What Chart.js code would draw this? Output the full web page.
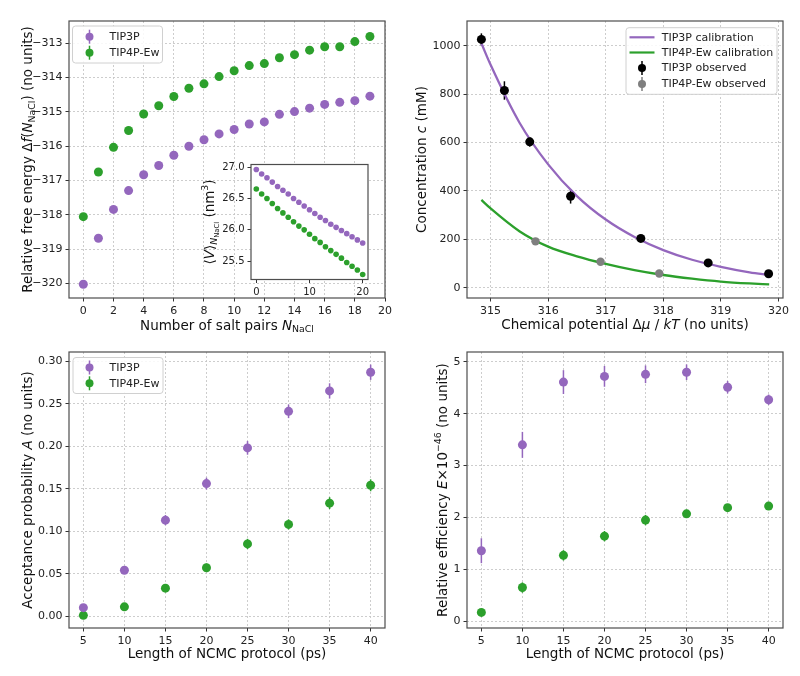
<!DOCTYPE html>
<html>
<head>
<meta charset="utf-8">
<script src="https://cdn.jsdelivr.net/npm/chart.js@4.4.0/dist/chart.umd.min.js"></script>
<style>
  html, body { margin: 0; padding: 0; background: #fff; }
  #wrap { position: relative; width: 800px; height: 676px; }
  #wrap canvas { position: absolute; left: 0; top: 0; }
</style>
</head>
<body>
<div id="wrap">
  <canvas id="cTL" width="800" height="676"></canvas>
  <canvas id="cTR" width="800" height="676"></canvas>
  <canvas id="cBL" width="800" height="676"></canvas>
  <canvas id="cBR" width="800" height="676"></canvas>
  <canvas id="cIn" width="800" height="676"></canvas>
</div>
<script>
// ---- data ----
// top left: relative free energy vs number of salt pairs
const nSalt = [0, 1, 2, 3, 4, 5, 6, 7, 8, 9, 10, 11, 12, 13, 14, 15, 16, 17, 18, 19];
const dfTip3p = [-320.02, -318.68, -317.84, -317.29, -316.83, -316.56, -316.26, -316.00, -315.81, -315.64,
                 -315.51, -315.35, -315.29, -315.07, -314.99, -314.89, -314.78, -314.72, -314.67, -314.54];
const dfErrTip3p = [0.03, 0.04, 0.04, 0.04, 0.04, 0.04, 0.04, 0.04, 0.04, 0.04,
                    0.04, 0.04, 0.04, 0.04, 0.04, 0.04, 0.04, 0.04, 0.04, 0.04];
const dfTip4p = [-318.05, -316.75, -316.03, -315.54, -315.06, -314.82, -314.55, -314.31, -314.18, -313.97,
                 -313.80, -313.65, -313.59, -313.42, -313.33, -313.20, -313.10, -313.10, -312.95, -312.80];
const dfErrTip4p = [0.03, 0.04, 0.04, 0.04, 0.04, 0.04, 0.04, 0.04, 0.04, 0.04,
                    0.04, 0.04, 0.04, 0.04, 0.04, 0.04, 0.04, 0.04, 0.04, 0.04];
const tlTicksX = [0, 2, 4, 6, 8, 10, 12, 14, 16, 18, 20];
const tlTicksY = [-320, -319, -318, -317, -316, -315, -314, -313];

// inset: mean volume
const nSaltInset = [0, 1, 2, 3, 4, 5, 6, 7, 8, 9, 10, 11, 12, 13, 14, 15, 16, 17, 18, 19, 20];
const volTip3p = [26.96, 26.89, 26.83, 26.76, 26.69, 26.63, 26.57, 26.50, 26.44, 26.38, 26.32,
                  26.26, 26.20, 26.15, 26.09, 26.04, 25.99, 25.94, 25.89, 25.84, 25.79];
const volTip4p = [26.65, 26.57, 26.50, 26.42, 26.34, 26.27, 26.20, 26.13, 26.06, 26.00, 25.93,
                  25.86, 25.80, 25.73, 25.67, 25.61, 25.55, 25.48, 25.42, 25.36, 25.29];
const inTicksX = [0, 10, 20];
const inTicksY = [25.5, 26.0, 26.5, 27.0];

// top right: concentration vs chemical potential
const muObsTip3p = [314.84, 315.24, 315.68, 316.39, 317.61, 318.78, 319.83];
const cObsTip3p = [1026, 815, 603, 378, 204, 103, 58];
const cErrTip3p = [25, 38, 20, 30, 14, 10, 10];
const muObsTip4p = [315.78, 316.91, 317.93];
const cObsTip4p = [192, 108, 59];
const cErrTip4p = [8, 8, 6];
const muCurve = [314.84, 315.0, 315.5, 316.0, 316.5, 317.0, 317.5, 318.0, 318.5, 319.0, 319.5, 319.84];
const cCurveTip3p = [1010, 921, 683, 510, 379, 282, 210, 156, 116, 87, 64, 53];
const cCurveTip4p = [363, 328, 234, 170, 130, 99, 73, 53, 38, 26, 18, 14];
const trTicksX = [315, 316, 317, 318, 319, 320];
const trTicksY = [0, 200, 400, 600, 800, 1000];

// bottom: NCMC protocol length
const protoLen = [5, 10, 15, 20, 25, 30, 35, 40];
const accTip3p = [0.010, 0.054, 0.113, 0.156, 0.198, 0.241, 0.265, 0.287];
const accErrTip3p = [0.003, 0.004, 0.006, 0.007, 0.008, 0.008, 0.009, 0.009];
const accTip4p = [0.001, 0.011, 0.033, 0.057, 0.085, 0.108, 0.133, 0.154];
const accErrTip4p = [0.002, 0.003, 0.004, 0.005, 0.006, 0.006, 0.007, 0.007];
const effTip3p = [1.36, 3.40, 4.61, 4.72, 4.76, 4.80, 4.51, 4.27];
const effErrTip3p = [0.24, 0.25, 0.23, 0.20, 0.17, 0.15, 0.12, 0.10];
const effTip4p = [0.17, 0.65, 1.27, 1.64, 1.95, 2.07, 2.19, 2.22];
const effErrTip4p = [0.05, 0.10, 0.10, 0.10, 0.10, 0.08, 0.07, 0.07];
const protoTicks = [5, 10, 15, 20, 25, 30, 35, 40];
const accTicks = [0.00, 0.05, 0.10, 0.15, 0.20, 0.25, 0.30];
const effTicks = [0, 1, 2, 3, 4, 5];

// ---- styling ----
const FONT = '"DejaVu Sans", Verdana, sans-serif';
const PURPLE = '#9467bd';
const GREEN = '#2ca02c';
const GRAY = '#7f7f7f';

function pts(xs, ys) {
  return xs.map((x, i) => ({ x: x, y: ys[i] }));
}

function minusFmt(v, dec) {
  const s = Math.abs(v).toFixed(dec);
  return v < 0 ? '\u2212' + s : s;
}

function axis(min, max, tickVals, dec, isY, fitSize, fs, gridOn) {
  return {
    type: 'linear',
    min: min,
    max: max,
    afterBuildTicks: s => { s.ticks = tickVals.map(v => ({ value: v })); },
    afterFit: s => { if (isY) s.width = fitSize; else s.height = fitSize; },
    ticks: {
      callback: v => minusFmt(v, dec),
      font: { family: FONT, size: fs },
      color: '#222',
      padding: 3,
      maxRotation: 0,
      autoSkip: false
    },
    grid: {
      display: true,
      drawOnChartArea: gridOn,
      color: '#c8c8c8',
      lineWidth: 0.9,
      drawTicks: true,
      tickLength: 3.5,
      tickColor: '#333',
      tickWidth: 1,
      tickBorderDash: []
    },
    border: { display: false, dash: [2, 2] }
  };
}

// text with italics / sub / superscripts, centred on (x, y) baseline
function drawRich(ctx, segs, x, y, size, vertical) {
  ctx.save();
  ctx.translate(x, y);
  if (vertical) ctx.rotate(-Math.PI / 2);
  let total = 0;
  const parts = segs.map(s => {
    const sc = s.sc || 1;
    const font = (s.it ? 'italic ' : '') + (size * sc).toFixed(1) + 'px ' + FONT;
    ctx.font = font;
    const w = ctx.measureText(s.t).width;
    total += w;
    return { t: s.t, font: font, w: w, dy: (s.dy || 0) * size };
  });
  let cx = -total / 2;
  ctx.fillStyle = '#111';
  ctx.textAlign = 'left';
  ctx.textBaseline = 'alphabetic';
  parts.forEach(p => {
    ctx.font = p.font;
    ctx.fillText(p.t, cx, p.dy);
    cx += p.w;
  });
  ctx.restore();
}

function roundRect(ctx, x, y, w, h, r) {
  ctx.beginPath();
  ctx.moveTo(x + r, y);
  ctx.lineTo(x + w - r, y);
  ctx.quadraticCurveTo(x + w, y, x + w, y + r);
  ctx.lineTo(x + w, y + h - r);
  ctx.quadraticCurveTo(x + w, y + h, x + w - r, y + h);
  ctx.lineTo(x + r, y + h);
  ctx.quadraticCurveTo(x, y + h, x, y + h - r);
  ctx.lineTo(x, y + r);
  ctx.quadraticCurveTo(x, y, x + r, y);
  ctx.closePath();
}

function drawLegend(ctx, L) {
  ctx.save();
  roundRect(ctx, L.x, L.y, L.w, L.h, 3);
  ctx.fillStyle = 'rgba(255,255,255,0.85)';
  ctx.fill();
  ctx.strokeStyle = '#d0d0d0';
  ctx.lineWidth = 1;
  ctx.stroke();
  L.items.forEach(it => {
    const cy = it.y;
    if (it.kind === 'line') {
      ctx.strokeStyle = it.color;
      ctx.lineWidth = 2.2;
      ctx.beginPath();
      ctx.moveTo(L.lineX0, cy);
      ctx.lineTo(L.lineX1, cy);
      ctx.stroke();
    } else {
      ctx.strokeStyle = it.color;
      ctx.lineWidth = 1.5;
      ctx.beginPath();
      ctx.moveTo(L.markX, cy - 7);
      ctx.lineTo(L.markX, cy + 7);
      ctx.stroke();
      ctx.fillStyle = it.color;
      ctx.beginPath();
      ctx.arc(L.markX, cy, 4, 0, Math.PI * 2);
      ctx.fill();
    }
    ctx.fillStyle = '#222';
    ctx.font = '11px ' + FONT;
    ctx.textAlign = 'left';
    ctx.textBaseline = 'middle';
    ctx.fillText(it.label, L.textX, cy + 0.5);
  });
  ctx.restore();
}

// per panel decorations: white face, error bars, frame, titles, legend
function deco(cfg) {
  return {
    id: 'deco',
    beforeDraw(chart) {
      if (!cfg.face) return;
      const a = chart.chartArea;
      const ctx = chart.ctx;
      ctx.save();
      ctx.fillStyle = '#fff';
      ctx.fillRect(a.left, a.top, a.right - a.left, a.bottom - a.top);
      ctx.restore();
    },
    beforeDatasetsDraw(chart) {
      const ctx = chart.ctx;
      const xs = chart.scales.x, ys = chart.scales.y;
      ctx.save();
      chart.data.datasets.forEach(ds => {
        if (!ds.errors) return;
        ctx.strokeStyle = ds.backgroundColor;
        ctx.lineWidth = 1.5;
        ds.data.forEach((p, i) => {
          const e = ds.errors[i];
          const px = xs.getPixelForValue(p.x);
          ctx.beginPath();
          ctx.moveTo(px, ys.getPixelForValue(p.y - e));
          ctx.lineTo(px, ys.getPixelForValue(p.y + e));
          ctx.stroke();
        });
      });
      ctx.restore();
    },
    afterDraw(chart) {
      const a = chart.chartArea;
      const ctx = chart.ctx;
      ctx.save();
      ctx.strokeStyle = '#4d4d4d';
      ctx.lineWidth = 1.2;
      ctx.strokeRect(a.left, a.top, a.right - a.left, a.bottom - a.top);
      ctx.restore();
      if (cfg.xTitle) drawRich(ctx, cfg.xTitle, (a.left + a.right) / 2, cfg.xTitleY, 13.5, false);
      if (cfg.yTitle) drawRich(ctx, cfg.yTitle, cfg.yTitleX, (a.top + a.bottom) / 2, 13.5, true);
      if (cfg.legend) drawLegend(ctx, cfg.legend);
    }
  };
}

function makeChart(id, area, yW, xH, datasets, xAxis, yAxis, cfg) {
  return new Chart(document.getElementById(id), {
    type: 'scatter',
    data: { datasets: datasets },
    options: {
      responsive: false,
      animation: false,
      devicePixelRatio: 1,
      events: [],
      layout: {
        padding: {
          left: area.left - yW,
          top: area.top,
          right: 800 - area.right,
          bottom: 676 - area.bottom - xH
        }
      },
      plugins: { legend: { display: false }, tooltip: { enabled: false } },
      scales: { x: xAxis, y: yAxis }
    },
    plugins: [deco(cfg)]
  });
}

function dots(label, xs, ys, errs, color, r) {
  return {
    label: label,
    data: pts(xs, ys),
    errors: errs,
    backgroundColor: color,
    borderColor: color,
    borderWidth: 0,
    pointRadius: r,
    order: 1
  };
}

// ---- top left ----
makeChart('cTL', { left: 69, right: 385, top: 21, bottom: 298 }, 45, 22,
  [
    dots('TIP3P', nSalt, dfTip3p, dfErrTip3p, PURPLE, 4.5),
    dots('TIP4P-Ew', nSalt, dfTip4p, dfErrTip4p, GREEN, 4.5)
  ],
  axis(-0.95, 20, tlTicksX, 0, false, 22, 11, true),
  axis(-320.42, -312.35, tlTicksY, 0, true, 45, 11, true),
  {
    xTitle: [{ t: 'Number of salt pairs ' }, { t: 'N', it: true }, { t: 'NaCl', sc: 0.7, dy: 0.22 }],
    xTitleY: 329.5,
    yTitle: [{ t: 'Relative free energy \u0394' }, { t: 'f', it: true }, { t: '(' }, { t: 'N', it: true },
             { t: 'NaCl', sc: 0.7, dy: 0.22 }, { t: ') (no units)' }],
    yTitleX: 32,
    legend: {
      x: 72.5, y: 26, w: 90, h: 37, markX: 89.5, textX: 109.5,
      items: [
        { kind: 'err', color: PURPLE, label: 'TIP3P', y: 36.7 },
        { kind: 'err', color: GREEN, label: 'TIP4P-Ew', y: 52.7 }
      ]
    }
  });

// ---- top right ----
makeChart('cTR', { left: 467, right: 783, top: 21, bottom: 298 }, 50, 22,
  [
    dots('TIP3P observed', muObsTip3p, cObsTip3p, cErrTip3p, '#000', 4.5),
    dots('TIP4P-Ew observed', muObsTip4p, cObsTip4p, cErrTip4p, GRAY, 4.2),
    {
      label: 'TIP3P calibration', data: pts(muCurve, cCurveTip3p), showLine: true,
      borderColor: PURPLE, backgroundColor: PURPLE, borderWidth: 2.3, pointRadius: 0,
      cubicInterpolationMode: 'monotone', order: 2
    },
    {
      label: 'TIP4P-Ew calibration', data: pts(muCurve, cCurveTip4p), showLine: true,
      borderColor: GREEN, backgroundColor: GREEN, borderWidth: 2.3, pointRadius: 0,
      cubicInterpolationMode: 'monotone', order: 2
    }
  ],
  axis(314.59, 320.08, trTicksX, 0, false, 22, 11, true),
  axis(-42, 1102, trTicksY, 0, true, 50, 11, true),
  {
    xTitle: [{ t: 'Chemical potential \u0394' }, { t: '\u03bc', it: true }, { t: ' / ' }, { t: 'kT', it: true },
             { t: ' (no units)' }],
    xTitleY: 329,
    yTitle: [{ t: 'Concentration ' }, { t: 'c', it: true }, { t: ' (mM)' }],
    yTitleX: 425.5,
    legend: {
      x: 626, y: 27.7, w: 151, h: 66.6, markX: 642, lineX0: 629.5, lineX1: 654.5, textX: 661.7,
      items: [
        { kind: 'line', color: PURPLE, label: 'TIP3P calibration', y: 37.3 },
        { kind: 'line', color: GREEN, label: 'TIP4P-Ew calibration', y: 52.5 },
        { kind: 'err', color: '#000', label: 'TIP3P observed', y: 68 },
        { kind: 'err', color: GRAY, label: 'TIP4P-Ew observed', y: 84 }
      ]
    }
  });

// ---- bottom left ----
makeChart('cBL', { left: 69, right: 385, top: 352, bottom: 628 }, 45, 22,
  [
    dots('TIP3P', protoLen, accTip3p, accErrTip3p, PURPLE, 4.5),
    dots('TIP4P-Ew', protoLen, accTip4p, accErrTip4p, GREEN, 4.5)
  ],
  axis(3.25, 41.75, protoTicks, 0, false, 22, 11, true),
  axis(-0.0139, 0.3108, accTicks, 2, true, 45, 11, true),
  {
    xTitle: [{ t: 'Length of NCMC protocol (ps)' }],
    xTitleY: 658,
    yTitle: [{ t: 'Acceptance probability ' }, { t: 'A', it: true }, { t: ' (no units)' }],
    yTitleX: 31.5,
    legend: {
      x: 73, y: 357.5, w: 90, h: 36, markX: 89.5, textX: 109.5,
      items: [
        { kind: 'err', color: PURPLE, label: 'TIP3P', y: 367.5 },
        { kind: 'err', color: GREEN, label: 'TIP4P-Ew', y: 383.3 }
      ]
    }
  });

// ---- bottom right ----
makeChart('cBR', { left: 467, right: 783, top: 352, bottom: 628 }, 45, 22,
  [
    dots('TIP3P', protoLen, effTip3p, effErrTip3p, PURPLE, 4.5),
    dots('TIP4P-Ew', protoLen, effTip4p, effErrTip4p, GREEN, 4.5)
  ],
  axis(3.25, 41.75, protoTicks, 0, false, 22, 11, true),
  axis(-0.13, 5.19, effTicks, 0, true, 45, 11, true),
  {
    xTitle: [{ t: 'Length of NCMC protocol (ps)' }],
    xTitleY: 658,
    yTitle: [{ t: 'Relative efficiency ' }, { t: 'E', it: true }, { t: '\u00d710' },
             { t: '\u221246', sc: 0.7, dy: -0.42 }, { t: ' (no units)' }],
    yTitleX: 446.5
  });

// ---- inset (drawn over top left) ----
makeChart('cIn', { left: 251, right: 368, top: 164.5, bottom: 279.5 }, 40, 20,
  [
    dots('TIP3P', nSaltInset, volTip3p, null, PURPLE, 2.8),
    dots('TIP4P-Ew', nSaltInset, volTip4p, null, GREEN, 2.8)
  ],
  axis(-1, 21, inTicksX, 0, false, 20, 10, false),
  axis(25.21, 27.04, inTicksY, 1, true, 40, 10, false),
  {
    face: true,
    yTitle: [{ t: '\u27e8' }, { t: 'V', it: true }, { t: '\u27e9' }, { t: 'N', it: true, sc: 0.7, dy: 0.22 },
             { t: 'NaCl', sc: 0.5, dy: 0.34 }, { t: ' (nm' }, { t: '3', sc: 0.7, dy: -0.42 }, { t: ')' }],
    yTitleX: 214
  });
</script>
</body>
</html>
